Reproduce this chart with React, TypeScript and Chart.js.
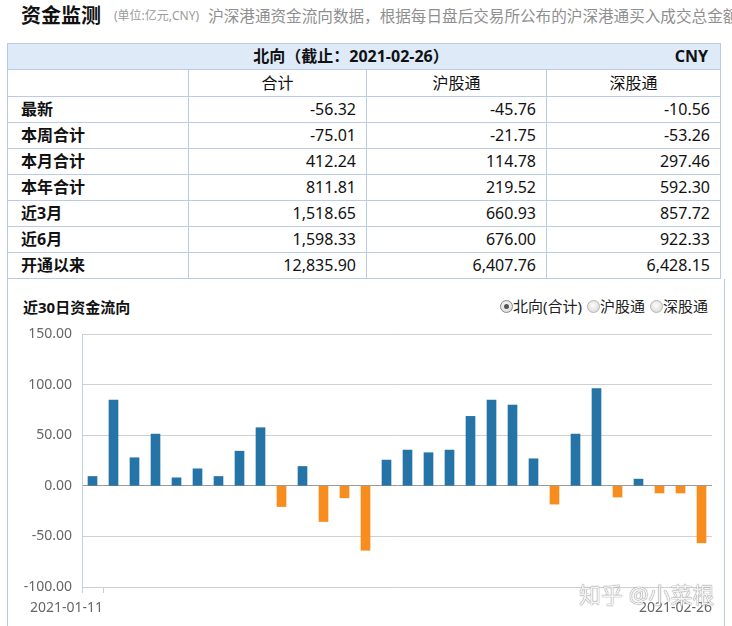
import React, { useEffect, useRef } from 'react';
import { Chart, registerables } from 'chart.js';

Chart.register(...registerables);

// ---------- data ----------
const dates = [
  '2021-01-11', '2021-01-12', '2021-01-13', '2021-01-14', '2021-01-15',
  '2021-01-18', '2021-01-19', '2021-01-20', '2021-01-21', '2021-01-22',
  '2021-01-25', '2021-01-26', '2021-01-27', '2021-01-28', '2021-01-29',
  '2021-02-01', '2021-02-02', '2021-02-03', '2021-02-04', '2021-02-05',
  '2021-02-08', '2021-02-09', '2021-02-10', '2021-02-18', '2021-02-19',
  '2021-02-22', '2021-02-23', '2021-02-24', '2021-02-25', '2021-02-26',
];
const netFlow = [
  9.2, 84.7, 27.7, 51.1, 7.9,
  16.8, 9.2, 34.2, 57.4, -20.5,
  19.1, -35.3, -11.9, -63.7, 25.4,
  35.3, 32.7, 35.3, 68.6, 84.8,
  79.8, 26.7, -18.1, 51.1, 96.0,
  -11.1, 6.6, -7.1, -7.1, -56.32,
];
const yMin = -100;
const yMax = 150;
const yStep = 50;

const rowLabels = ['最新', '本周合计', '本月合计', '本年合计', '近3月', '近6月', '开通以来'];
const colHeaders = ['合计', '沪股通', '深股通'];
const totalCol = ['-56.32', '-75.01', '412.24', '811.81', '1,518.65', '1,598.33', '12,835.90'];
const shCol = ['-45.76', '-21.75', '114.78', '219.52', '660.93', '676.00', '6,407.76'];
const szCol = ['-10.56', '-53.26', '297.46', '592.30', '857.72', '922.33', '6,428.15'];
const radioLabels = ['北向(合计)', '沪股通', '深股通'];
const pageTitle = '资金监测';
const unitText = '(单位:亿元,CNY)';
const descText = '沪深港通资金流向数据，根据每日盘后交易所公布的沪深港通买入成交总金额';
const tableTitle = '北向（截止：2021-02-26）';
const currency = 'CNY';
const chartTitle = '近30日资金流向';
const watermark = '知乎 @小菜根';

// ---------- styles ----------
const FONT = '"Noto Sans", "Noto Sans CJK SC", sans-serif';
const BORDER = '#b9cce3';
const BLUE = '#2574a7';
const ORANGE = '#f68d1e';

const cellW = [180, 178, 180, 174];

const xLabelPlugin = {
  id: 'xEdgeLabels',
  afterDraw(chart: any) {
    const { ctx, chartArea, scales } = chart;
    const xs = scales.x;
    const labels = chart.data.labels as string[];
    const n = labels.length;
    const half = (chartArea.right - chartArea.left) / n / 2;
    const firstEdge = xs.getPixelForValue(0) + half;
    const lastEdge = xs.getPixelForValue(n - 1) + half;
    ctx.save();
    ctx.strokeStyle = '#c3d1df';
    ctx.lineWidth = 1;
    [chartArea.left, firstEdge].forEach((x: number) => {
      const px = Math.round(x) + 0.5;
      ctx.beginPath();
      ctx.moveTo(px, chartArea.bottom);
      ctx.lineTo(px, chartArea.bottom + 6);
      ctx.stroke();
    });
    ctx.fillStyle = '#666';
    ctx.font = '14px ' + FONT;
    ctx.textAlign = 'right';
    ctx.textBaseline = 'middle';
    ctx.fillText(labels[0], firstEdge, chartArea.bottom + 21);
    ctx.fillText(labels[n - 1], lastEdge, chartArea.bottom + 21);
    ctx.restore();
  },
};

function Radio({ checked }: { checked: boolean }) {
  return (
    <span
      style={{
        display: 'inline-block',
        width: 13,
        height: 13,
        borderRadius: '50%',
        border: '1px solid ' + (checked ? '#8a8a8a' : '#b5b5b5'),
        background: 'radial-gradient(circle at 45% 40%, #fbfbfb 0%, #e4e4e4 60%, #cfcfcf 100%)',
        boxSizing: 'border-box',
        position: 'relative',
        flex: 'none',
      }}
    >
      {checked && (
        <span
          style={{
            position: 'absolute',
            left: 3,
            top: 3,
            width: 5,
            height: 5,
            borderRadius: '50%',
            background: '#555',
          }}
        />
      )}
    </span>
  );
}

export default function App() {
  const canvasRef = useRef<HTMLCanvasElement | null>(null);

  useEffect(() => {
    if (!canvasRef.current) return;
    const chart = new Chart(canvasRef.current, {
      type: 'bar',
      data: {
        labels: dates,
        datasets: [
          {
            data: netFlow,
            backgroundColor: netFlow.map((v) => (v >= 0 ? BLUE : ORANGE)),
            barThickness: 9,
          },
        ],
      },
      options: {
        animation: false,
        responsive: false,
        devicePixelRatio: 1,
        layout: { padding: { top: 44, right: 12, left: 0, bottom: 0 } },
        plugins: { legend: { display: false }, tooltip: { enabled: false } },
        scales: {
          x: {
            type: 'category',
            offset: true,
            grid: { display: false },
            border: { display: false },
            ticks: { display: false },
            afterFit: (s: any) => {
              s.height = 39;
            },
          },
          y: {
            min: yMin,
            max: yMax,
            ticks: {
              stepSize: yStep,
              padding: 10,
              color: '#666',
              font: { size: 14, family: FONT },
              callback: (v: any) => Number(v).toFixed(2),
            },
            grid: {
              drawTicks: false,
              color: (c: any) => (c.tick && c.tick.value === 0 ? '#9a9a9a' : '#d0d0d0'),
            },
            border: { display: true, color: '#c3d1df' },
            afterFit: (s: any) => {
              s.width = 74;
            },
          },
        },
      },
      plugins: [xLabelPlugin],
    });
    return () => chart.destroy();
  }, []);

  const rowStyle = (h: number): React.CSSProperties => ({
    display: 'flex',
    height: h,
    borderTop: '1px solid ' + BORDER,
  });
  const cell = (i: number, extra: React.CSSProperties = {}): React.CSSProperties => ({
    width: cellW[i],
    boxSizing: 'border-box',
    borderLeft: i === 0 ? 'none' : '1px solid ' + BORDER,
    overflow: 'hidden',
    whiteSpace: 'nowrap',
    ...extra,
  });

  return (
    <div
      style={{
        position: 'fixed',
        left: 0,
        top: 0,
        width: 732,
        height: 626,
        overflow: 'hidden',
        background: '#fff',
        fontFamily: FONT,
        color: '#111',
      }}
    >
      {/* page header */}
      <div
        style={{
          position: 'absolute',
          left: 21,
          top: 3,
          height: 26,
          lineHeight: '26px',
          whiteSpace: 'nowrap',
          display: 'flex',
          alignItems: 'center',
        }}
      >
        <span style={{ fontSize: 20, fontWeight: 700, color: '#111' }}>{pageTitle}</span>
        <span style={{ fontSize: 12, color: '#9a9a9a', marginLeft: 13 }}>{unitText}</span>
        <span style={{ fontSize: 15.6, color: '#8f8f8f', marginLeft: 9 }}>{descText}</span>
      </div>

      {/* table */}
      <div
        style={{
          position: 'absolute',
          left: 7,
          top: 43,
          width: 714,
          boxSizing: 'border-box',
          border: '1px solid ' + BORDER,
          fontSize: 16,
        }}
      >
        <div
          style={{
            height: 25,
            lineHeight: '25px',
            background: '#dfeaf8',
            position: 'relative',
            fontWeight: 700,
          }}
        >
          <div style={{ position: 'absolute', left: 0, right: 26, textAlign: 'center' }}>{tableTitle}</div>
          <div style={{ position: 'absolute', right: 12, top: 0 }}>{currency}</div>
        </div>
        <div style={rowStyle(26)}>
          <div style={cell(0)} />
          {colHeaders.map((h, i) => (
            <div key={h} style={cell(i + 1, { textAlign: 'center', lineHeight: '26px' })}>
              {h}
            </div>
          ))}
        </div>
        {rowLabels.map((lab, r) => (
          <div key={lab} style={rowStyle(25)}>
            <div style={cell(0, { paddingLeft: 13, fontWeight: 700, lineHeight: '25px' })}>{lab}</div>
            {[totalCol[r], shCol[r], szCol[r]].map((v, i) => (
              <div
                key={i}
                style={cell(i + 1, { textAlign: 'right', paddingRight: 10, lineHeight: '25px' })}
              >
                {v}
              </div>
            ))}
          </div>
        ))}
      </div>

      {/* chart panel borders */}
      <div style={{ position: 'absolute', left: 7, top: 279, width: 1, height: 347, background: BORDER }} />
      <div style={{ position: 'absolute', left: 724, top: 279, width: 1, height: 347, background: BORDER }} />

      <div
        style={{
          position: 'absolute',
          left: 23,
          top: 297,
          height: 20,
          lineHeight: '20px',
          fontSize: 15,
          fontWeight: 700,
          whiteSpace: 'nowrap',
        }}
      >
        {chartTitle}
      </div>

      <div
        style={{
          position: 'absolute',
          right: 24,
          top: 296,
          height: 20,
          display: 'flex',
          alignItems: 'center',
          fontSize: 15,
          color: '#222',
          whiteSpace: 'nowrap',
        }}
      >
        {radioLabels.map((l, i) => (
          <span key={l} style={{ display: 'flex', alignItems: 'center', marginLeft: i === 0 ? 0 : 5 }}>
            <Radio checked={i === 0} />
            <span style={{ lineHeight: '20px' }}>{l}</span>
          </span>
        ))}
      </div>

      <canvas
        ref={canvasRef}
        width={716}
        height={336}
        style={{ position: 'absolute', left: 8, top: 290, width: 716, height: 336 }}
      />

      <div
        style={{
          position: 'absolute',
          left: 579,
          top: 580,
          fontSize: 22,
          lineHeight: '28px',
          color: 'rgba(255,255,255,0.92)',
          textShadow: '0 0 1px #7a7a7a, 0 0 1px #7a7a7a',
          whiteSpace: 'nowrap',
          pointerEvents: 'none',
        }}
      >
        {watermark}
      </div>
    </div>
  );
}
